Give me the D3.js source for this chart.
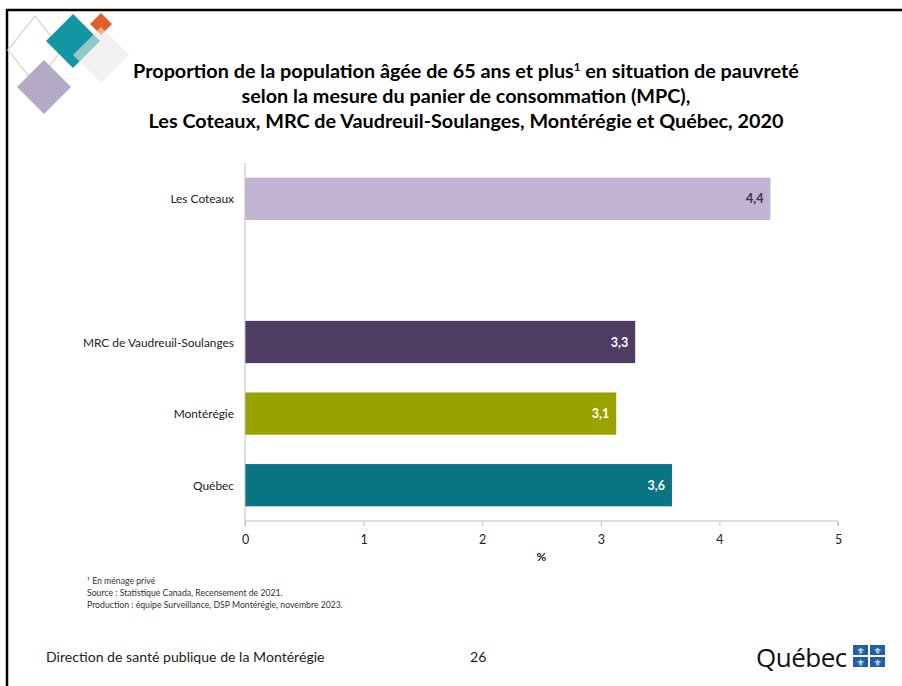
<!DOCTYPE html>
<html lang="fr">
  <head>
    <meta charset="utf-8">
    <title>Proportion 65 ans et plus - MPC</title>
    <style>
     body { margin: 0; background: #fff; }
     svg { display: block; font-family: Lato, "Open Sans", sans-serif; }
    </style>
  </head>
  <body>
    <div id="chart"></div>
    <script src="https://d3js.org/d3.v7.min.js"></script>
    <script>
     // data
     var categories = ["Les Coteaux", "", "MRC de Vaudreuil-Soulanges", "Montérégie", "Québec"];
     var values = [4.43, null, 3.29, 3.13, 3.6];
     var barColors = ["#c1b5d3", null, "#4f3c63", "#99a300", "#0b7482"];
     var labelColors = ["#3e3050", null, "#fff", "#fff", "#fff"];
     var xTicks = [0, 1, 2, 3, 4, 5];
     var titleLines = [
       "Proportion de la population âgée de 65 ans et plus",
       "selon la mesure du panier de consommation (MPC),",
       "Les Coteaux, MRC de Vaudreuil-Soulanges, Montérégie et Québec, 2020"
     ];
     var notes = [
       "¹ En ménage privé",
       "Source : Statistique Canada, Recensement de 2021.",
       "Production : équipe Surveillance, DSP Montérégie, novembre 2023."
     ];

     var W = 902, H = 686;
     var svg = d3.select("#chart").append("svg").attr("width", W).attr("height", H);

     // slide frame
     svg.append("path")
        .attr("d", "M7,686 V10 H902")
        .attr("fill", "none").attr("stroke", "#000").attr("stroke-width", 2.5);

     // logo diamonds
     var diamonds = [
       {cx: 35, cy: 50, rx: 27, ry: 34, fill: "none", stroke: "#d9dfd3", op: 1},
       {cx: 44, cy: 87, rx: 27, ry: 27, fill: "#b4aac8", stroke: "none", op: 1},
       {cx: 73, cy: 41, rx: 27, ry: 27, fill: "#1296a4", stroke: "none", op: 1},
       {cx: 101, cy: 24, rx: 11, ry: 11, fill: "#e2602a", stroke: "none", op: 1},
       {cx: 101, cy: 55, rx: 28, ry: 28, fill: "#ebe7e4", stroke: "none", op: 0.6}
     ];
     svg.append("g").selectAll("path").data(diamonds).join("path")
        .attr("d", function(d) {
          return "M" + d.cx + "," + (d.cy - d.ry) + " L" + (d.cx + d.rx) + "," + d.cy +
                 " L" + d.cx + "," + (d.cy + d.ry) + " L" + (d.cx - d.rx) + "," + d.cy + "Z";
        })
        .attr("fill", function(d) { return d.fill; })
        .attr("fill-opacity", function(d) { return d.op; })
        .attr("stroke", function(d) { return d.stroke; })
        .attr("stroke-width", 1.5)
        .attr("stroke-linejoin", "round");

     // title
     var title = svg.append("text")
                    .attr("text-anchor", "middle")
                    .attr("font-weight", "bold")
                    .attr("font-size", 19.8)
                    .attr("fill", "#000");
     var t1 = title.append("tspan").attr("x", 466).attr("y", 78).text(titleLines[0]);
     t1.append("tspan").attr("font-size", 11.5).attr("dy", -7).text("1");
     t1.append("tspan").attr("dy", 7).text(" en situation de pauvreté");
     title.append("tspan").attr("x", 466).attr("y", 103).text(titleLines[1]);
     title.append("tspan").attr("x", 466).attr("y", 128).text(titleLines[2]);

     // chart area
     var mLeft = 245, mRight = 838, mTop = 163, mBottom = 521;
     var x = d3.scaleLinear().domain([0, 5]).range([mLeft, mRight]);
     var y = d3.scaleBand().domain(categories).range([mTop, mBottom]).paddingInner(0.41).paddingOuter(0.205);

     var bars = categories.map(function(c, i) {
       return {cat: c, v: values[i], color: barColors[i], lc: labelColors[i]};
     }).filter(function(d) { return d.v !== null; });

     svg.append("g").selectAll("rect").data(bars).join("rect")
        .attr("x", x(0))
        .attr("y", function(d) { return y(d.cat); })
        .attr("width", function(d) { return x(d.v) - x(0); })
        .attr("height", y.bandwidth())
        .attr("fill", function(d) { return d.color; });

     var fmt = function(v) { return d3.format(".1f")(v).replace(".", ","); };
     svg.append("g").selectAll("text").data(bars).join("text")
        .attr("x", function(d) { return x(d.v) - 7; })
        .attr("y", function(d) { return y(d.cat) + y.bandwidth() / 2 + 4.5; })
        .attr("text-anchor", "end")
        .attr("font-size", 12.5)
        .attr("font-weight", "bold")
        .attr("fill", function(d) { return d.lc; })
        .text(function(d) { return fmt(d.v); });

     // category labels
     svg.append("g").selectAll("text").data(categories.filter(function(c) { return c !== ""; })).join("text")
        .attr("x", mLeft - 11)
        .attr("y", function(d) { return y(d) + y.bandwidth() / 2 + 4.5; })
        .attr("text-anchor", "end")
        .attr("font-size", 11.9)
        .attr("fill", "#222")
        .text(function(d) { return d; });

     // axes
     var xAxis = svg.append("g")
                    .attr("transform", "translate(0," + mBottom + ")")
                    .call(d3.axisBottom(x).tickValues(xTicks).tickSize(5).tickPadding(9).tickFormat(d3.format("d")));
     xAxis.select(".domain").attr("stroke", "#bfbfbf").attr("d", "M" + mLeft + ",5V0H" + mRight + "V5");
     xAxis.selectAll(".tick line").attr("stroke", "#bfbfbf");
     xAxis.selectAll(".tick text").attr("font-size", 12.5).attr("fill", "#222").attr("font-family", "Lato, sans-serif");

     svg.append("line")
        .attr("x1", mLeft).attr("x2", mLeft).attr("y1", mTop).attr("y2", mBottom)
        .attr("stroke", "#bfbfbf");

     svg.append("text")
        .attr("x", (mLeft + mRight) / 2).attr("y", 561)
        .attr("text-anchor", "middle")
        .attr("font-size", 12).attr("font-weight", "bold").attr("fill", "#222")
        .text("%");

     // notes
     svg.append("g").selectAll("text").data(notes).join("text")
        .attr("x", 87)
        .attr("y", function(d, i) { return 584 + i * 12; })
        .attr("font-size", 8.7)
        .attr("fill", "#333")
        .text(function(d) { return d; });

     // footer
     svg.append("text").attr("x", 46).attr("y", 662)
        .attr("font-size", 14.1).attr("fill", "#222")
        .text("Direction de santé publique de la Montérégie");
     svg.append("text").attr("x", 470).attr("y", 662)
        .attr("font-size", 14.1).attr("fill", "#222")
        .text("26");

     // Québec wordmark
     svg.append("text").attr("x", 756).attr("y", 667)
        .attr("font-size", 26).attr("fill", "#111")
        .attr("font-family", "'Open Sans', sans-serif")
        .attr("letter-spacing", -0.5)
        .text("Québec");
     var flag = svg.append("g").attr("transform", "translate(853,645)");
     [[0, 0], [17, 0], [0, 12], [17, 12]].forEach(function(p) {
       flag.append("rect").attr("x", p[0]).attr("y", p[1]).attr("width", 15).attr("height", 10).attr("fill", "#1f5ea8");
       flag.append("text").attr("x", p[0] + 7.5).attr("y", p[1] + 8.5)
           .attr("text-anchor", "middle").attr("font-size", 9).attr("fill", "#fff")
           .attr("font-family", "DejaVu Sans").text("⚜");
     });
    </script>
  </body>
</html>
